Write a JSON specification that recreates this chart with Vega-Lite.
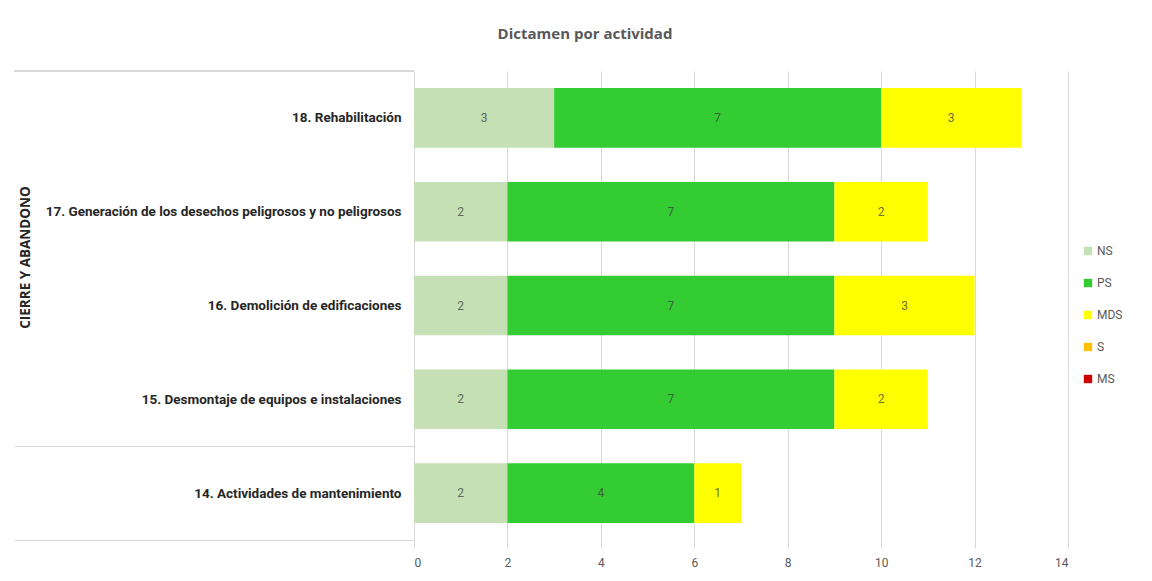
{
  "$schema": "https://vega.github.io/schema/vega-lite/v6.json",
  "autosize": {"type": "none"},
  "padding": {"left": 414, "top": 71, "right": 84, "bottom": 42},
  "width": 654,
  "height": 469,
  "background": "white",
  "title": {
    "text": "Dictamen por actividad",
    "fontSize": 15,
    "fontWeight": "bold",
    "color": "#595959",
    "font": "Open Sans",
    "anchor": "middle",
    "frame": "group",
    "dx": -156,
    "offset": 22
  },
  "data": {
    "values": [
      {"actividad": "18. Rehabilitación", "dictamen": "NS", "orden": 1, "valor": 3},
      {"actividad": "18. Rehabilitación", "dictamen": "PS", "orden": 2, "valor": 7},
      {"actividad": "18. Rehabilitación", "dictamen": "MDS", "orden": 3, "valor": 3},
      {"actividad": "17. Generación de los desechos peligrosos y no peligrosos", "dictamen": "NS", "orden": 1, "valor": 2},
      {"actividad": "17. Generación de los desechos peligrosos y no peligrosos", "dictamen": "PS", "orden": 2, "valor": 7},
      {"actividad": "17. Generación de los desechos peligrosos y no peligrosos", "dictamen": "MDS", "orden": 3, "valor": 2},
      {"actividad": "16. Demolición de edificaciones", "dictamen": "NS", "orden": 1, "valor": 2},
      {"actividad": "16. Demolición de edificaciones", "dictamen": "PS", "orden": 2, "valor": 7},
      {"actividad": "16. Demolición de edificaciones", "dictamen": "MDS", "orden": 3, "valor": 3},
      {"actividad": "15. Desmontaje de equipos e instalaciones", "dictamen": "NS", "orden": 1, "valor": 2},
      {"actividad": "15. Desmontaje de equipos e instalaciones", "dictamen": "PS", "orden": 2, "valor": 7},
      {"actividad": "15. Desmontaje de equipos e instalaciones", "dictamen": "MDS", "orden": 3, "valor": 2},
      {"actividad": "14. Actividades de mantenimiento", "dictamen": "NS", "orden": 1, "valor": 2},
      {"actividad": "14. Actividades de mantenimiento", "dictamen": "PS", "orden": 2, "valor": 4},
      {"actividad": "14. Actividades de mantenimiento", "dictamen": "MDS", "orden": 3, "valor": 1}
    ]
  },
  "encoding": {
    "y": {
      "field": "actividad",
      "type": "nominal",
      "sort": [
        "18. Rehabilitación",
        "17. Generación de los desechos peligrosos y no peligrosos",
        "16. Demolición de edificaciones",
        "15. Desmontaje de equipos e instalaciones",
        "14. Actividades de mantenimiento"
      ],
      "scale": {"paddingInner": 0, "paddingOuter": 0},
      "axis": {
        "title": "CIERRE Y ABANDONO",
        "titleAngle": -90,
        "titleX": -389,
        "titleY": 186,
        "titleAlign": "center",
        "titleBaseline": "middle",
        "titleFontSize": 13.5,
        "titleFontWeight": "bold",
        "titleColor": "#262626",
        "titleFont": "Open Sans",
        "labelFont": "Roboto",
        "labelFontSize": 13.5,
        "labelFontWeight": "bold",
        "labelColor": "#262626",
        "labelLimit": 400,
        "domain": true,
        "domainColor": "#d9d9d9",
        "tickBand": "extent",
        "tickSize": 400,
        "tickColor": "#d9d9d9",
        "tickOpacity": {"condition": {"test": "datum.value == '15. Desmontaje de equipos e instalaciones' || datum.value == '14. Actividades de mantenimiento'", "value": 1}, "value": 0},
        "labelPadding": -387
      }
    },
    "x": {
      "field": "valor",
      "type": "quantitative",
      "stack": "zero",
      "scale": {"domain": [0, 14], "nice": false},
      "axis": {
        "title": null,
        "values": [0, 2, 4, 6, 8, 10, 12, 14],
        "grid": true,
        "gridColor": "#d9d9d9",
        "domain": false,
        "ticks": true,
        "tickSize": 8,
        "tickColor": "#d9d9d9",
        "labelPadding": 9,
        "labelFontSize": 12,
        "labelColor": "#595959",
        "labelFont": "Roboto"
      }
    },
    "order": {"field": "orden", "type": "quantitative"}
  },
  "layer": [
    {
      "mark": {"type": "bar", "height": {"band": 0.635}},
      "encoding": {
        "color": {
          "field": "dictamen",
          "type": "nominal",
          "scale": {
            "domain": ["NS", "PS", "MDS", "S", "MS"],
            "range": ["#c5e0b4", "#33cc33", "#ffff00", "#ffc000", "#d00000"]
          },
          "legend": {
            "title": null,
            "orient": "none",
            "legendX": 668,
            "legendY": 174,
            "symbolType": "square",
            "symbolSize": 70,
            "symbolStrokeWidth": 0,
            "labelFontSize": 12,
            "labelColor": "#595959",
            "labelFont": "Roboto",
            "rowPadding": 20,
            "labelOffset": 3
          }
        }
      }
    },
    {
      "mark": {"type": "text", "fontSize": 12, "color": "#404040", "opacity": 0.75, "font": "Roboto"},
      "encoding": {
        "x": {"field": "valor", "type": "quantitative", "stack": "zero", "bandPosition": 0.5},
        "text": {"field": "valor", "type": "quantitative"}
      }
    },
    {
      "mark": {"type": "rule", "color": "#d9d9d9", "strokeWidth": 1},
      "encoding": {
        "y": {"datum": "18. Rehabilitación", "type": "nominal", "bandPosition": 0},
        "x": {"datum": -8.56, "type": "quantitative"},
        "x2": {"datum": 0},
        "order": null
      }
    }
  ],
  "config": {
    "view": {"stroke": null}
  }
}
